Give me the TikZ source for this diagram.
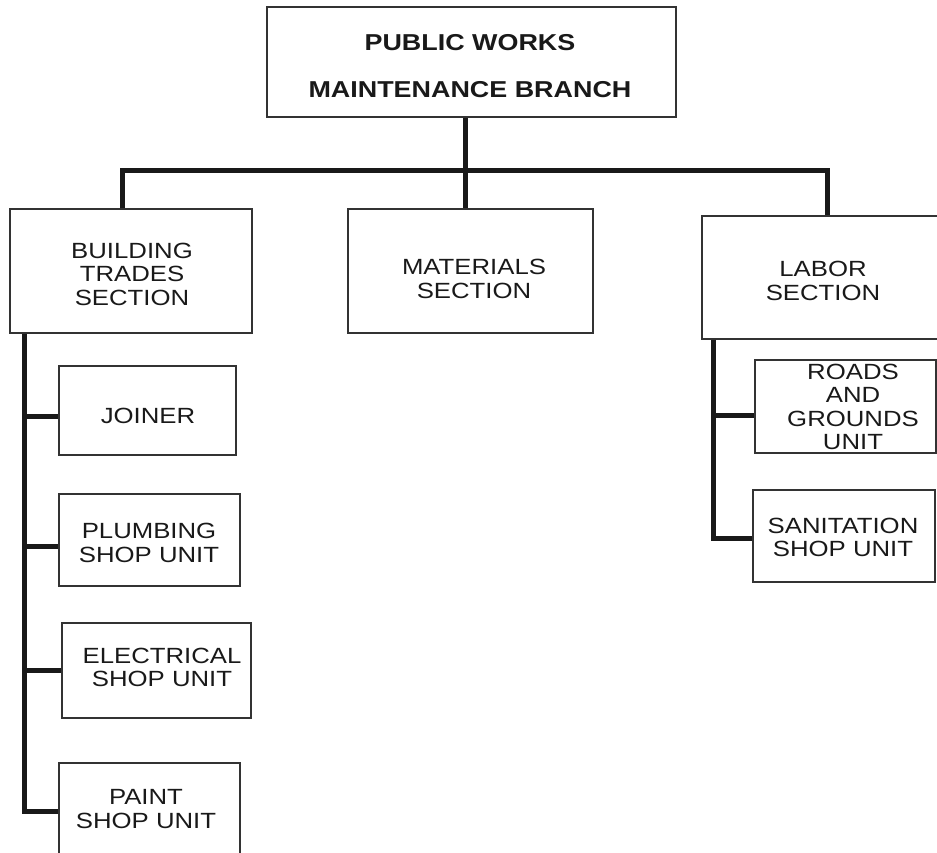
\documentclass[tikz,border=0pt]{standalone}
\usepackage{fontspec}
\setmainfont{Liberation Sans}[FakeStretch=1.17]
\begin{document}
\begin{tikzpicture}[x=1pt,y=-1pt,
  box/.style={draw=black!80,line width=1.1pt,fill=none,inner sep=0pt,
    minimum width=#1},
  txt/.style={align=center,inner sep=0pt,text=black!90,
    font=\fontsize{22}{23.5}\selectfont},
  head/.style={align=center,inner sep=0pt,text=black!90,
    font=\fontsize{23}{47}\selectfont\bfseries},
  link/.style={draw=black!90,line width=5pt,line join=miter}]
\useasboundingbox (0,0) rectangle (937,852);

% boxes
\node[box=409pt,minimum height=110pt] (top)    at (471.5,62)  {};
\node[box=242pt,minimum height=124pt] (build)  at (131,271)   {};
\node[box=245pt,minimum height=124pt] (mat)    at (470.5,271) {};
\node[box=243pt,minimum height=123pt] (labor)  at (823.5,277.5) {};
\node[box=177pt,minimum height=89pt]  (joiner) at (147.5,410.5) {};
\node[box=181pt,minimum height=92pt]  (plumb)  at (149.5,540) {};
\node[box=189pt,minimum height=95pt]  (elec)   at (156.5,670.5) {};
\node[box=181pt,minimum height=97pt]  (paint)  at (149.5,811.5) {};
\node[box=181pt,minimum height=93pt]  (roads)  at (845.5,406.5) {};
\node[box=182pt,minimum height=92pt]  (sanit)  at (844,536)   {};

% labels
\node[head] (top-t)    at (470,66.5) {PUBLIC WORKS\\MAINTENANCE BRANCH};
\node[txt]  (build-t)  at (132,274)  {BUILDING\\TRADES\\SECTION};
\node[txt]  (mat-t)    at (474,279)  {MATERIALS\\SECTION};
\node[txt]  (labor-t)  at (823,281)  {LABOR\\SECTION};
\node[txt]  (joiner-t) at (148,416)  {JOINER};
\node[txt]  (plumb-t)  at (149,543)  {PLUMBING\\SHOP UNIT};
\node[txt]  (elec-t)   at (162,667.5) {ELECTRICAL\\SHOP UNIT};
\node[txt]  (paint-t)  at (146,809)  {PAINT\\SHOP UNIT};
\node[txt]  (roads-t)  at (853,407)  {ROADS\\AND\\GROUNDS\\UNIT};
\node[txt]  (sanit-t)  at (843,537.5) {SANITATION\\SHOP UNIT};

% junction points of the connector lines
\coordinate (j)  at (465,170);
\coordinate (bl) at (122,170);
\coordinate (br) at (827,170);
\coordinate (bt) at (24,0);
\coordinate (lt) at (713,0);

% branch to the three sections
\draw[link] (j |- top.south) -- (j |- mat.north);
\draw[link] (bl |- build.north) -- (bl) -- (br) -- (br |- labor.north);

% building trades units
\draw[link] (bt |- build.south) |- (paint.west);
\draw[link] (bt |- joiner.west) ++(0,5.5) -- ([yshift=-5.5pt]joiner.west);
\draw[link] (bt |- plumb.west) ++(0,6) -- ([yshift=-6pt]plumb.west);
\draw[link] (bt |- elec.west) -- (elec.west);

% labor units
\draw[link] (lt |- labor.south) |- ([yshift=-2pt]sanit.west);
\draw[link] (lt |- roads.west) ++(0,8.5) -- ([yshift=-8.5pt]roads.west);
\end{tikzpicture}
\end{document}
